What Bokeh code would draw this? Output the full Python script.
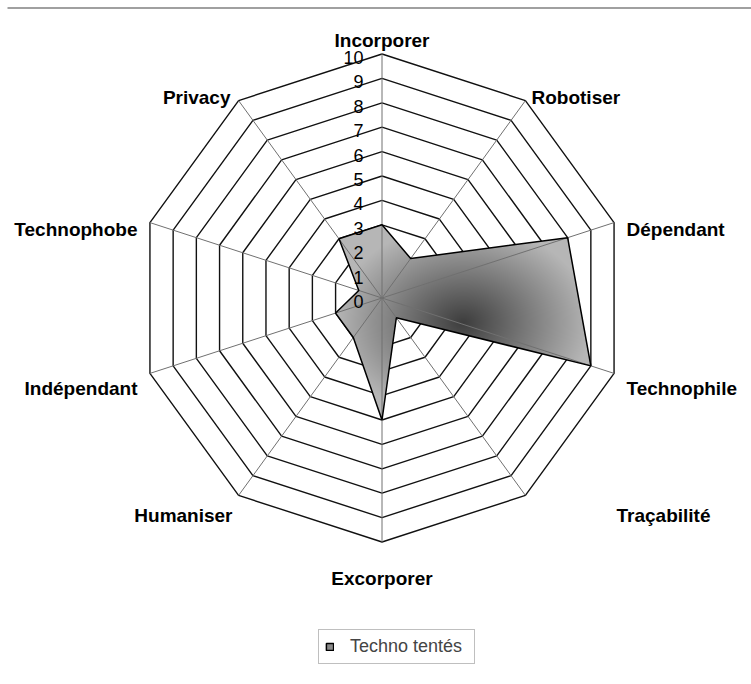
import numpy as np
from bokeh.plotting import figure
from bokeh.models import Range1d, Legend, LegendItem
from bokeh.embed import file_html
from bokeh.resources import INLINE
from bokeh.core.properties import value

# ---------------- data ----------------
categories = ["Incorporer", "Robotiser", "Dépendant", "Technophile", "Traçabilité",
              "Excorporer", "Humaniser", "Indépendant", "Technophobe", "Privacy"]
values = [3, 2, 8, 9, 1, 5, 2, 2, 1, 3]
levels = list(range(0, 11))
tick_labels = [str(v) for v in levels]
series_name = "Techno tentés"

# ---------------- layout constants (screen px) ----------------
W, H = 751, 676
OX, OY = 0, 0
CX, CY = 381.5, 297.5   # radar centre on screen
S = 24.4                # px per unit
FONT = "Liberation Sans"

# label anchors on screen: (x, baseline y, align)
label_pos = [
    (381.5, 40, "center"),
    (531, 97, "left"),
    (626, 229, "left"),
    (626, 388, "left"),
    (616, 515, "left"),
    (381.5, 578, "center"),
    (232, 515, "right"),
    (137, 388, "right"),
    (137, 229, "right"),
    (230, 97, "right"),
]


def sx(x):
    return (x - CX) / S


def sy(y):
    return (CY - y) / S


p = figure(width=W, height=H,
           x_range=Range1d(sx(OX), sx(OX + W)),
           y_range=Range1d(sy(OY + H), sy(OY)),
           x_axis_type=None, y_axis_type=None,
           output_backend="svg", toolbar_location=None,
           min_border=0, min_border_left=0, min_border_right=0,
           min_border_top=0, min_border_bottom=0)
p.grid.visible = False
p.outline_line_color = None
p.background_fill_color = "white"

n = len(categories)
theta = np.arange(n) * 2 * np.pi / n
sin_t, cos_t = np.sin(theta), np.cos(theta)
rmax = levels[-1]

# top separator line
p.segment(x0=[sx(7)], y0=[sy(7.5)], x1=[sx(751)], y1=[sy(7.5)],
          line_color="#a0a0a0", line_width=2)

# rings
ring_xs, ring_ys = [], []
for lv in levels[1:]:
    ring_xs.append(list(lv * sin_t) + [lv * sin_t[0]])
    ring_ys.append(list(lv * cos_t) + [lv * cos_t[0]])
p.multi_line(ring_xs, ring_ys, line_color="#111111", line_width=1.4)

# series polygon
vals = np.array(values, dtype=float)
px_ = vals * sin_t
py_ = vals * cos_t

fill_r = p.patch(list(px_), list(py_), fill_color="#8a8a8a", line_color=None)

# radial gradient fill as image, masked by polygon
xmin, xmax = px_.min(), px_.max()
ymin, ymax = py_.min(), py_.max()
nx = int(np.ceil((xmax - xmin) * S)) + 4
ny = int(np.ceil((ymax - ymin) * S)) + 4
x_lo = xmin - 2 / S
y_lo = ymin - 2 / S
gx = x_lo + (np.arange(nx) + 0.5) / S
gy = y_lo + (np.arange(ny) + 0.5) / S
GX, GY = np.meshgrid(gx, gy)


def inside(qx, qy, vx, vy):
    res = np.zeros(qx.shape, dtype=bool)
    j = len(vx) - 1
    for i in range(len(vx)):
        denom = (vy[j] - vy[i])
        denom = denom if abs(denom) > 1e-12 else 1e-12
        cond = ((vy[i] > qy) != (vy[j] > qy)) & \
               (qx < (vx[j] - vx[i]) * (qy - vy[i]) / denom + vx[i])
        res ^= cond
        j = i
    return res


mask = inside(GX, GY, px_, py_)
gcx, gcy = (xmin + xmax) / 2, (ymin + ymax) / 2
a, b = (xmax - xmin) / 2, (ymax - ymin) / 2
t = np.sqrt(((GX - gcx) / a) ** 2 + ((GY - gcy) / b) ** 2)
g = (62 + (182 - 62) * np.clip(t, 0, 1)).astype(np.uint8)
img = np.zeros((ny, nx), dtype=np.uint32)
view = img.view(dtype=np.uint8).reshape((ny, nx, 4))
view[..., 0] = g
view[..., 1] = g
view[..., 2] = g
view[..., 3] = np.where(mask, 255, 0).astype(np.uint8)
p.image_rgba(image=[img], x=x_lo, y=y_lo, dw=nx / S, dh=ny / S)

# spokes
p.segment(x0=[0] * n, y0=[0] * n, x1=list(rmax * sin_t), y1=list(rmax * cos_t),
          line_color="#707070", line_width=1)

# outline
outline_r = p.patch(list(px_), list(py_), fill_alpha=0, line_color="#000000", line_width=1.5)

# tick labels
p.text(x=[sx(363)] * len(levels), y=[lv - 3.5 / S for lv in levels], text=tick_labels,
       text_align="right", text_baseline="middle",
       text_font=value(FONT), text_font_size="18px", text_color="#000000")

# category labels
for cat, (lx, ly, al) in zip(categories, label_pos):
    p.text(x=[sx(lx)], y=[sy(ly)], text=[cat], text_align=al,
           text_baseline="alphabetic", text_font=value(FONT),
           text_font_style="bold", text_font_size="19px", text_color="#000000")

legend = Legend(items=[LegendItem(label=series_name, renderers=[fill_r, outline_r])],
                location=(318, H - 664), orientation="vertical",
                border_line_color="#808080", border_line_width=1,
                padding=6, spacing=0, margin=0,
                glyph_width=9, glyph_height=9, label_standoff=16, label_width=118,
                label_text_font=FONT, label_text_font_size="18px",
                label_height=18, background_fill_color="white", background_fill_alpha=1)
p.add_layout(legend, "center")

open("out.html", "w").write(file_html(p, INLINE))
